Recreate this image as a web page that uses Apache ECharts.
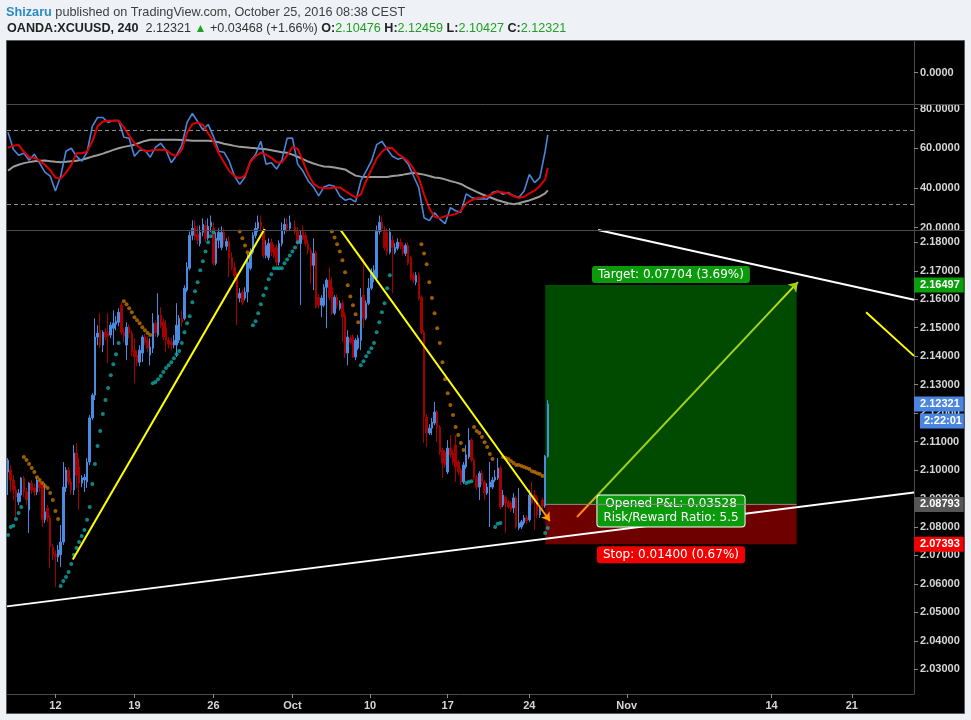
<!DOCTYPE html>
<html>
<head>
<meta charset="utf-8">
<title>OANDA:XCUUSD, 240</title>
<script src="https://cdn.jsdelivr.net/npm/echarts@6/dist/echarts.min.js"></script>
<style>
  html, body { margin: 0; padding: 0; background: #eef2f6; }
  #chart { width: 971px; height: 720px; }
</style>
</head>
<body>
<div id="chart"></div>
<script>
// time axis: bar index (4h bars) where each day label sits
var dayTicks = [18, 48, 78, 108, 137.5, 167, 198, 235, 290, 320.5];
var dayLabels = ['12', '19', '26', 'Oct', '10', '17', '24', 'Nov', '14', '21'];
var priceTicks = [2.03, 2.04, 2.05, 2.06, 2.07, 2.08, 2.09, 2.10, 2.11, 2.12, 2.13, 2.14, 2.15, 2.16, 2.17, 2.18];
var oscTicks = [20, 40, 60, 80];
var oscBands = [69, 32];

// 4h candles, one row per bar: open, close, low, high
var ohlc = [
  [2.0993,2.1035,2.0912,2.1042],[2.1000,2.0965,2.0923,2.1018],[2.0965,2.0930,2.0895,2.0982],[2.0930,2.0905,2.0835,2.0944],
  [2.0888,2.0919,2.0877,2.0933],[2.0912,2.0972,2.0888,2.0975],[2.0972,2.0923,2.0905,2.0979],[2.0923,2.0895,2.0877,2.0937],
  [2.0860,2.0954,2.0779,2.0958],[2.0954,2.0930,2.0916,2.0965],
  [2.0937,2.0923,2.0909,2.0951],[2.0923,2.0965,2.0912,2.0975],[2.0961,2.0937,2.0923,2.0972],[2.0947,2.0825,2.0800,2.0958],
  [2.0825,2.0853,2.0814,2.0954],[2.0867,2.0832,2.0818,2.0877],[2.0832,2.0730,2.0656,2.0842],[2.0730,2.0705,2.0684,2.0740],
  [2.0705,2.0695,2.0589,2.0719],[2.0695,2.0719,2.0677,2.0737],
  [2.0702,2.0747,2.0660,2.0807],[2.0747,2.0940,2.0737,2.1028],[2.0937,2.1000,2.0923,2.1011],[2.1000,2.0958,2.0947,2.1011],
  [2.0958,2.0930,2.0912,2.0972],[2.0930,2.1060,2.0912,2.1088],[2.1060,2.0982,2.0937,2.1095],[2.1011,2.0954,2.0860,2.1042],
  [2.0954,2.0972,2.0940,2.0982],[2.0965,2.0975,2.0923,2.0986],
  [2.0958,2.1028,2.0937,2.1042],[2.1028,2.1183,2.1018,2.1193],[2.1183,2.1263,2.1175,2.1270],[2.1263,2.1467,2.1246,2.1533],
  [2.1467,2.1481,2.1439,2.1509],[2.1491,2.1439,2.1428,2.1551],[2.1439,2.1484,2.1414,2.1491],[2.1484,2.1467,2.1456,2.1498],
  [2.1484,2.1470,2.1375,2.1551],[2.1474,2.1509,2.1463,2.1519],
  [2.1498,2.1516,2.1439,2.1561],[2.1512,2.1523,2.1491,2.1540],[2.1519,2.1554,2.1505,2.1568],[2.1579,2.1484,2.1474,2.1589],
  [2.1484,2.1470,2.1449,2.1498],[2.1439,2.1502,2.1386,2.1519],[2.1502,2.1481,2.1463,2.1512],[2.1481,2.1414,2.1400,2.1491],
  [2.1421,2.1397,2.1305,2.1463],[2.1404,2.1379,2.1365,2.1421],
  [2.1379,2.1421,2.1365,2.1439],[2.1411,2.1467,2.1379,2.1474],[2.1467,2.1449,2.1439,2.1477],[2.1456,2.1428,2.1414,2.1470],
  [2.1404,2.1432,2.1368,2.1463],[2.1428,2.1516,2.1411,2.1551],[2.1516,2.1481,2.1467,2.1526],[2.1474,2.1544,2.1467,2.1621],
  [2.1544,2.1509,2.1498,2.1572],[2.1519,2.1467,2.1456,2.1533],
  [2.1498,2.1456,2.1414,2.1526],[2.1456,2.1442,2.1428,2.1467],[2.1449,2.1439,2.1421,2.1463],[2.1439,2.1456,2.1428,2.1474],
  [2.1439,2.1509,2.1397,2.1586],[2.1456,2.1533,2.1446,2.1544],[2.1533,2.1519,2.1505,2.1561],[2.1533,2.1639,2.1526,2.1649],
  [2.1632,2.1712,2.1625,2.1730],[2.1709,2.1824,2.1702,2.1838],
  [2.1824,2.1849,2.1807,2.1877],[2.1856,2.1821,2.1807,2.1877],[2.1828,2.1807,2.1793,2.1859],[2.1796,2.1835,2.1786,2.1859],
  [2.1835,2.1863,2.1821,2.1884],[2.1859,2.1814,2.1800,2.1877],[2.1814,2.1856,2.1807,2.1884],[2.1856,2.1870,2.1835,2.1894],
  [2.1849,2.1726,2.1719,2.1870],[2.1726,2.1814,2.1719,2.1835],
  [2.1807,2.1835,2.1779,2.1849],[2.1782,2.1835,2.1772,2.1856],[2.1835,2.1807,2.1789,2.1849],[2.1786,2.1803,2.1772,2.1814],
  [2.1803,2.1744,2.1677,2.1821],[2.1747,2.1712,2.1702,2.1765],[2.1712,2.1684,2.1667,2.1730],[2.1684,2.1604,2.1509,2.1695],
  [2.1604,2.1621,2.1589,2.1639],[2.1625,2.1589,2.1579,2.1635],
  [2.1604,2.1625,2.1596,2.1642],[2.1625,2.1730,2.1589,2.1761],[2.1709,2.1765,2.1702,2.1779],[2.1765,2.1824,2.1758,2.1835],
  [2.1824,2.1849,2.1814,2.1870],[2.1849,2.1870,2.1835,2.1894],[2.1870,2.1856,2.1842,2.1891],[2.1838,2.1754,2.1744,2.1856],
  [2.1754,2.1789,2.1744,2.1807],[2.1747,2.1796,2.1737,2.1814],
  [2.1800,2.1765,2.1751,2.1814],[2.1779,2.1754,2.1744,2.1793],[2.1782,2.1730,2.1719,2.1793],[2.1730,2.1796,2.1719,2.1807],
  [2.1796,2.1842,2.1786,2.1870],[2.1842,2.1863,2.1828,2.1884],[2.1863,2.1849,2.1835,2.1884],[2.1849,2.1870,2.1842,2.1894],
  [2.1870,2.1856,2.1845,2.1891],[2.1856,2.1838,2.1828,2.1877],
  [2.1838,2.1796,2.1786,2.1852],[2.1796,2.1824,2.1579,2.1842],[2.1838,2.1814,2.1807,2.1859],[2.1824,2.1796,2.1786,2.1835],
  [2.1796,2.1772,2.1758,2.1807],[2.1772,2.1719,2.1656,2.1782],[2.1719,2.1761,2.1632,2.1814],[2.1765,2.1572,2.1568,2.1772],
  [2.1607,2.1579,2.1568,2.1618],[2.1579,2.1604,2.1537,2.1614],
  [2.1579,2.1642,2.1572,2.1653],[2.1642,2.1667,2.1498,2.1674],[2.1667,2.1607,2.1596,2.1712],[2.1642,2.1551,2.1544,2.1677],
  [2.1551,2.1607,2.1544,2.1614],[2.1607,2.1579,2.1568,2.1618],[2.1568,2.1586,2.1561,2.1596],[2.1586,2.1537,2.1449,2.1596],
  [2.1544,2.1411,2.1393,2.1554],[2.1411,2.1467,2.1368,2.1491],
  [2.1463,2.1449,2.1439,2.1474],[2.1467,2.1397,2.1393,2.1477],[2.1397,2.1456,2.1386,2.1463],[2.1428,2.1463,2.1421,2.1474],
  [2.1456,2.1607,2.1421,2.1639],[2.1614,2.1533,2.1498,2.1744],[2.1533,2.1586,2.1526,2.1596],[2.1586,2.1639,2.1579,2.1674],
  [2.1639,2.1695,2.1632,2.1709],[2.1674,2.1702,2.1660,2.1719],
  [2.1674,2.1838,2.1667,2.1859],[2.1838,2.1870,2.1828,2.1894],[2.1870,2.1849,2.1835,2.1891],[2.1838,2.1782,2.1772,2.1856],
  [2.1835,2.1765,2.1754,2.1849],[2.1765,2.1835,2.1758,2.1849],[2.1807,2.1782,2.1621,2.1824],[2.1765,2.1782,2.1758,2.1796],
  [2.1779,2.1800,2.1772,2.1814],[2.1800,2.1786,2.1775,2.1814],
  [2.1789,2.1761,2.1754,2.1800],[2.1761,2.1789,2.1751,2.1796],[2.1789,2.1726,2.1719,2.1800],[2.1747,2.1674,2.1667,2.1754],
  [2.1684,2.1667,2.1656,2.1695],[2.1660,2.1684,2.1649,2.1695],[2.1684,2.1604,2.1596,2.1695],[2.1607,2.1484,2.1477,2.1614],
  [2.1484,2.1186,2.1095,2.1491],[2.1186,2.1130,2.1081,2.1197],
  [2.1130,2.1147,2.1123,2.1161],[2.1147,2.1168,2.1123,2.1183],[2.1165,2.1204,2.1158,2.1239],[2.1204,2.1151,2.1098,2.1211],
  [2.1151,2.1063,2.1053,2.1158],[2.1070,2.1025,2.0972,2.1077],[2.1063,2.1018,2.1007,2.1070],[2.0993,2.1077,2.0986,2.1105],
  [2.1077,2.1053,2.1042,2.1123],[2.1060,2.1028,2.1018,2.1070],
  [2.1088,2.1011,2.0958,2.1123],[2.1028,2.0993,2.0982,2.1035],[2.1000,2.0958,2.0947,2.1007],[2.0958,2.1018,2.0951,2.1028],
  [2.1011,2.1053,2.1004,2.1088],[2.1046,2.1105,2.1039,2.1147],[2.1105,2.1035,2.1028,2.1112],[2.1035,2.0975,2.0965,2.1042],
  [2.0975,2.0940,2.0930,2.0982],[2.0940,2.0989,2.0895,2.0996],
  [2.0989,2.0958,2.0947,2.1000],[2.0958,2.0919,2.0895,2.0965],[2.0919,2.0940,2.0912,2.0954],[2.0940,2.0958,2.0800,2.1028],
  [2.0940,2.0965,2.0933,2.0975],[2.0965,2.0975,2.0958,2.1000],[2.0972,2.1007,2.0965,2.1042],[2.1007,2.0870,2.0863,2.1014],
  [2.0877,2.0912,2.0870,2.0930],[2.0905,2.0884,2.0779,2.0912],
  [2.0888,2.0870,2.0863,2.0895],[2.0884,2.0860,2.0853,2.0891],[2.0867,2.0902,2.0849,2.0919],[2.0902,2.0800,2.0793,2.0909],
  [2.0796,2.0814,2.0789,2.0937],[2.0800,2.0818,2.0793,2.0825],[2.0814,2.0832,2.0807,2.0842],[2.0832,2.0821,2.0811,2.0842],
  [2.0825,2.0912,2.0818,2.0930],[2.0905,2.0884,2.0877,2.0958],
  [2.0912,2.0895,2.0789,2.0930],[2.0902,2.0842,2.0832,2.0912],[2.0842,2.0867,2.0832,2.0877],[2.0895,2.0874,2.0853,2.0905],
  [2.0874,2.1048,2.0867,2.1053],[2.10476,2.12321,2.10427,2.12459]
];

// parabolic SAR dots [bar, price]
var sarUp = [
  [0,2.0772],[1,2.0800],[2,2.0804],[3,2.0828],[4,2.0849],[5,2.0870],
  [20,2.0593],[21,2.0610],[22,2.0624],[23,2.0642],[24,2.0670],[25,2.0702],[26,2.0726],[27,2.0747],[28,2.0768],[29,2.0789],
  [30,2.0825],[31,2.0870],[32,2.0951],[33,2.1021],[34,2.1084],[35,2.1137],[36,2.1197],[37,2.1246],[38,2.1288],[39,2.1333],
  [40,2.1372],[41,2.1407],[42,2.1446],
  [55,2.1305],[56,2.1309],[57,2.1319],[58,2.1330],[59,2.1344],[60,2.1358],[61,2.1368],[62,2.1379],[63,2.1393],[64,2.1407],
  [65,2.1418],[66,2.1446],[67,2.1484],[68,2.1516],[69,2.1540],[70,2.1589],[71,2.1628],[72,2.1660],[73,2.1702],[74,2.1733],
  [75,2.1768],[76,2.1800],[77,2.1821],[78,2.1835],
  [93,2.1509],[94,2.1523],[95,2.1551],[96,2.1582],[97,2.1614],[98,2.1639],[99,2.1670],[100,2.1688],[101,2.1709],[102,2.1709],
  [103,2.1709],[104,2.1709],[105,2.1726],[106,2.1740],[107,2.1754],[108,2.1768],[109,2.1782],[110,2.1800],
  [134,2.1368],[135,2.1382],[136,2.1400],[137,2.1414],[138,2.1428],[139,2.1446],[140,2.1484],[141,2.1519],[142,2.1554],
  [143,2.1586],[144,2.1639],[145,2.1684],
  [174,2.0954],[175,2.0958],[176,2.0961],
  [185,2.0800],[186,2.0811],[187,2.0814],
  [204,2.0779],[205,2.0796]
];
var sarDown = [
  [6,2.1046],[7,2.1035],[8,2.1021],[9,2.1007],[10,2.0993],[11,2.0975],[12,2.0965],[13,2.0954],[14,2.0944],[15,2.0937],
  [16,2.0919],[17,2.0895],[18,2.0856],[19,2.0828],
  [44,2.1593],[45,2.1582],[46,2.1568],[47,2.1554],[48,2.1537],[49,2.1526],[50,2.1516],[51,2.1502],[52,2.1491],[53,2.1481],[54,2.1474],
  [88,2.1838],[89,2.1814],[90,2.1789],[91,2.1765],
  [123,2.1838],[124,2.1817],[125,2.1793],[126,2.1768],[127,2.1737],[128,2.1695],[129,2.1649],[130,2.1610],[131,2.1579],
  [132,2.1547],[133,2.1519],
  [157,2.1793],[158,2.1761],[159,2.1723],[160,2.1660],[161,2.1604],[162,2.1551],[163,2.1498],[164,2.1446],[165,2.1379],
  [166,2.1319],[167,2.1270],[168,2.1228],[169,2.1193],[170,2.1151],[171,2.1123],[172,2.1095],[173,2.1070],
  [177,2.1151],[178,2.1137],[179,2.1130],[180,2.1116],[181,2.1098],[182,2.1081],[183,2.1056],[184,2.1039],
  [188,2.1046],[189,2.1042],[190,2.1039],[191,2.1032],[192,2.1025],[193,2.1018],[194,2.1018],[195,2.1014],[196,2.1011],
  [197,2.1007],[198,2.1004],[199,2.0996],[200,2.0993],[201,2.0989],[202,2.0986],[203,2.0979]
];

// oscillator, sampled every 2nd bar (0,2,...,204) plus the last bar 205
var oscFast = [
  68,59.5,56.5,57.5,54,57,52.5,48,46,38.5, 46,58.5,60,56,53.5,58,71,75.5,75.5,73,
  74,74,65.5,65,56,59,59,55.5,60.5,62.5, 59,52.7,56.5,61.5,73,77.5,73.5,69.3,72,66,
  58.5,58,53.5,46,41.8,45.5,53.5,56.8,63.5,52,  52.7,49.5,54,65,65.2,52,48.5,43.5,40.5,36,
  40.5,41.5,40.8,36,33.8,34.5,33,43.5,48.5,53.5, 61.8,63.5,59.5,56,54.5,55.2,52,46,40.2,25,
  23.5,27.5,24.3,22,30,28.5,27.7,37,35.2,34.5, 34.6,34.3,37.7,38.5,36.8,37.7,36,35.2,38.5,46.8,
  42.7,45.2,58.5,66.8
];
var oscSlow = [
  60.2,61.3,61.7,58.2,55.5,55.2,53.7,51.7,49,45.2, 44.7,47.7,51.5,57.5,57.5,58.3,63.5,71,73.5,73.8,
  73.8,73.8,70.5,66.5,62.5,60.3,58.5,58.7,59.3,59.3, 59.3,57,56,59.3,67.8,72.2,73,71.8,67.5,63.5,
  57.5,53,48.5,46,44.8,46.2,53,56,57.7,56.8, 55.2,53,52.8,56.5,60.5,59.8,53.5,46.8,42.2,40.3,
  39.8,39.8,40.2,40.3,38.5,36.8,35.2,36.8,43.5,49.3, 54.8,58.2,60.3,60,57.2,55.5,53.3,49.7,44.8,36.8,
  29.7,25.5,24.8,25.8,26.3,26.8,28.5,32.2,33.8,34.8, 35.2,35.8,37,38.2,37.7,37.2,35.8,35,35.5,37.3,
  38.7,41,44.3,50.2
];
var oscBase = [
  48.7,50.7,51.7,52.5,53,53.5,53.7,53.8,53.5,53.2, 53,53.2,53.5,53.7,54.2,55,55.8,56.5,57.3,58.2,
  59.2,60,60.7,61.2,61.8,62.8,63.7,64.3,64.3,64.3, 64.3,64.3,64.3,64.2,64,63.8,63.8,63.8,63.8,63.5,
  63,62.3,61.8,61.2,60.7,60.5,60.2,60,59.8,59.5, 59,58.5,58,57.7,56.8,55.7,54.5,53.3,52.3,51.5,
  50.8,50.7,50.3,49.8,49.3,47.7,46.2,45.7,45.5,45.5, 45.5,45.5,45.5,46,46.3,46.7,47.2,47.7,47.2,46.7,
  46,45.3,45,44.3,43.5,42.8,42,40.5,39.3,38, 36.8,35.8,34.8,33.8,33,32.3,31.8,32.3,33,33.7,
  34.7,35.7,37.3,38.8
];

// drawings on the price panel, [bar, price]
var lowerTrend = [[-0.4, 2.0521], [344.1, 2.0921]];
var upperTrend = [[224.1, 2.1843], [344.1, 2.1598]];
var riseTrend = [[24.6, 2.0686], [97.5, 2.1848]];
var fallTrend = [[126.4, 2.1842], [201.3, 2.0879]];
var fallArrow = [[201.3, 2.0879], [205.8, 2.0821]];
var rightTrend = [[325.9, 2.1554], [344.1, 2.1401]];
var targetArrow = [[216.1, 2.0835], [300.0, 2.1660]];

// long position tool
var positionBars = [204.06, 299.5];
var entryPrice = 2.08793;
var targetPrice = 2.16497;
var stopPrice = 2.07393;
var lastPrice = 2.12321;
var pnlPoint = [251.8, 2.0856];
var targetText = 'Target: 0.07704 (3.69%)';
var pnlText = 'Opened P&L: 0.03528\nRisk/Reward Ratio: 5.5';
var stopText = 'Stop: 0.01400 (0.67%)';
var countdownText = '2:22:01';

var UP = '#4a8be2', DOWN = '#a50000';
var AXIS_FONT = { color: '#d6d6d6', fontSize: 11, fontWeight: 'bold', fontFamily: 'Liberation Sans, Arial, sans-serif' };
var XMIN = -0.4, XMAX = 344.1;

var candleData = ohlc.map(function (r, i) { return [i, r[0], r[1], r[2], r[3]]; });
var oscBars = [];
for (var k = 0; k < 103; k++) oscBars.push(k * 2);
oscBars.push(205);
function pairs(vals) { return vals.map(function (v, j) { return [oscBars[j], v]; }); }

// a coloured price tag sitting on the right price axis
function tag(value, color, extra) {
  return {
    coord: [XMAX, value],
    label: Object.assign({}, AXIS_FONT, {
      show: true, position: 'right', distance: 0, formatter: value.toFixed(5),
      color: '#fff', backgroundColor: color, padding: [2, 4, 1, 6], lineHeight: 12
    }, extra || {})
  };
}

function hiddenX(idx) {
  return { type: 'value', gridIndex: idx, min: XMIN, max: XMAX, show: false, axisLine: { onZero: false } };
}
function sideY(idx, min, max, ticks, digits) {
  return {
    type: 'value', gridIndex: idx, position: 'right', min: min, max: max, scale: true,
    axisLine: { show: true, onZero: false, lineStyle: { color: '#4a4a4a' } },
    axisTick: { show: true, customValues: ticks, length: 4, lineStyle: { color: '#8a8a8a' } },
    axisLabel: Object.assign({ customValues: ticks, margin: 6, formatter: function (v) { return v.toFixed(digits); } }, AXIS_FONT),
    splitLine: { show: false }
  };
}
function trend(points, color, z) {
  return {
    type: 'line', xAxisIndex: 2, yAxisIndex: 2, data: points, showSymbol: false, silent: true,
    lineStyle: { color: color, width: 2 }, z: z || 3, animation: false, clip: true
  };
}

var chart = echarts.init(document.getElementById('chart'), null, { renderer: 'canvas' });
chart.setOption({
  animation: false,
  backgroundColor: '#eef2f6',
  textStyle: { fontFamily: 'Liberation Sans, Arial, sans-serif' },
  title: [{
    left: 6, top: 6, padding: 0,
    text: '{u|Shizaru} {t|published on TradingView.com, October 25, 2016 08:38 CEST}',
    textStyle: {
      fontSize: 12.7, fontWeight: 'normal', fontFamily: 'Liberation Sans, Arial, sans-serif',
      rich: {
        u: { color: '#2b8ac6', fontWeight: 'bold', fontSize: 12.7 },
        t: { color: '#404040', fontWeight: 'normal', fontSize: 12.7 }
      }
    }
  }, {
    left: 7, top: 22, padding: 0,
    text: '{b|OANDA:XCUUSD, 240}  {n|2.12321} {g|▲} {n|+0.03468 (+1.66%)} {b|O:}{v|2.10476} {b|H:}{v|2.12459} {b|L:}{v|2.10427} {b|C:}{v|2.12321}',
    textStyle: {
      fontSize: 12.6, fontWeight: 'normal', fontFamily: 'Liberation Sans, Arial, sans-serif',
      rich: {
        b: { color: '#222', fontWeight: 'bold', fontSize: 12.6 },
        n: { color: '#333', fontWeight: 'normal', fontSize: 12.6 },
        g: { color: '#1fa31f', fontWeight: 'normal', fontSize: 12 },
        v: { color: '#1f9e1f', fontWeight: 'normal', fontSize: 12.6 }
      }
    }
  }],
  graphic: [
    { type: 'rect', z: -10, silent: true, shape: { x: 6.5, y: 40.5, width: 958, height: 673 },
      style: { fill: '#000', stroke: '#5a5a5a', lineWidth: 1 } },
    { type: 'line', z: 50, silent: true, shape: { x1: 7, y1: 104.5, x2: 964, y2: 104.5 }, style: { stroke: '#4a4a4a', lineWidth: 1 } },
    { type: 'line', z: 50, silent: true, shape: { x1: 7, y1: 230.5, x2: 964, y2: 230.5 }, style: { stroke: '#4a4a4a', lineWidth: 1 } }
  ],
  grid: [
    { left: 7, right: 57, top: 41, height: 63, outerBoundsMode: 'none' },
    { left: 7, right: 57, top: 104, height: 126, outerBoundsMode: 'none' },
    { left: 7, right: 57, top: 230, height: 464, outerBoundsMode: 'none' }
  ],
  xAxis: [
    hiddenX(0), hiddenX(1),
    {
      type: 'value', gridIndex: 2, min: XMIN, max: XMAX,
      axisLine: { show: true, onZero: false, lineStyle: { color: '#4a4a4a' } },
      axisTick: { show: true, customValues: dayTicks, length: 4, lineStyle: { color: '#8a8a8a' } },
      axisLabel: Object.assign({
        customValues: dayTicks, margin: 6,
        formatter: function (v) {
          for (var j = 0; j < dayTicks.length; j++) if (Math.abs(dayTicks[j] - v) < 0.01) return dayLabels[j];
          return '';
        }
      }, AXIS_FONT),
      splitLine: { show: false }
    }
  ],
  yAxis: [
    sideY(0, -1, 1, [0], 4),
    sideY(1, 18.8, 82.3, oscTicks, 4),
    sideY(2, 2.02132, 2.18432, priceTicks, 5)
  ],
  series: [
    // empty upper pane keeps its axis
    { type: 'line', xAxisIndex: 0, yAxisIndex: 0, data: [], silent: true },
    // oscillator pane
    {
      type: 'line', xAxisIndex: 1, yAxisIndex: 1, data: pairs(oscBase), showSymbol: false, silent: true,
      lineStyle: { color: '#9c9c9c', width: 2 }, z: 2,
      markLine: {
        silent: true, symbol: 'none', label: { show: false },
        lineStyle: { color: '#8c8c8c', type: [4, 3], width: 1 },
        data: oscBands.map(function (b) { return { yAxis: b }; })
      }
    },
    { type: 'line', xAxisIndex: 1, yAxisIndex: 1, data: pairs(oscFast), showSymbol: false, silent: true,
      lineStyle: { color: '#4a86dc', width: 1.6 }, z: 3 },
    { type: 'line', xAxisIndex: 1, yAxisIndex: 1, data: pairs(oscSlow), showSymbol: false, silent: true,
      lineStyle: { color: '#dd0000', width: 2 }, z: 4 },
    // price pane
    trend(lowerTrend, '#ffffff', 3),
    trend(upperTrend, '#ffffff', 3),
    {
      type: 'candlestick', xAxisIndex: 2, yAxisIndex: 2, data: candleData, clip: true, silent: true,
      dimensions: ['bar', 'open', 'close', 'lowest', 'highest'],
      encode: { x: 'bar', y: ['open', 'close', 'lowest', 'highest'] },
      barWidth: 2, z: 4,
      itemStyle: { color: UP, color0: DOWN, borderColor: UP, borderColor0: DOWN, borderWidth: 1 }
    },
    { type: 'scatter', xAxisIndex: 2, yAxisIndex: 2, data: sarUp, symbolSize: 4, silent: true, clip: true,
      itemStyle: { color: '#10a8a8' }, z: 5 },
    { type: 'scatter', xAxisIndex: 2, yAxisIndex: 2, data: sarDown, symbolSize: 4, silent: true, clip: true,
      itemStyle: { color: '#c27400' }, z: 5 },
    trend(riseTrend, '#ffff00', 6),
    Object.assign(trend(fallTrend, '#ffff00', 6), {
      markLine: {
        silent: true, symbol: ['none', 'arrow'], symbolSize: 8, label: { show: false },
        lineStyle: { color: '#ff9a00', width: 2, type: 'solid' },
        data: [[{ coord: fallArrow[0] }, { coord: fallArrow[1] }]]
      }
    }),
    trend(rightTrend, '#ffff00', 6),
    // position tool: target / stop zones, entry line and labels
    {
      type: 'line', xAxisIndex: 2, yAxisIndex: 2, z: 7, silent: true, showSymbol: false,
      data: [[positionBars[0], entryPrice], [positionBars[1], entryPrice]],
      lineStyle: { color: '#8a8a8a', width: 1 },
      markArea: {
        silent: true,
        data: [
          [{ coord: [positionBars[0], targetPrice], itemStyle: { color: 'rgba(0,150,0,0.5)' },
             label: { show: true, position: 'top', distance: 2, formatter: targetText, color: '#fff',
                      backgroundColor: '#0b9a0b', padding: [3, 6, 2, 6], borderRadius: 3,
                      fontFamily: 'DejaVu Sans, sans-serif', fontSize: 12 } },
           { coord: [positionBars[1], entryPrice] }],
          [{ coord: [positionBars[0], entryPrice], itemStyle: { color: 'rgba(220,0,0,0.5)' },
             label: { show: true, position: 'bottom', distance: 2, formatter: stopText, color: '#fff',
                      backgroundColor: '#f20000', padding: [3, 6, 2, 6], borderRadius: 3,
                      fontFamily: 'DejaVu Sans, sans-serif', fontSize: 12 } },
           { coord: [positionBars[1], stopPrice] }]
        ]
      },
      markPoint: {
        silent: true, symbol: 'rect', symbolSize: 0,
        data: [{ coord: pnlPoint, label: {
          show: true, position: 'inside', formatter: pnlText, color: '#fff', align: 'center',
          backgroundColor: '#0b9a0b', borderColor: '#fff', borderWidth: 1, borderRadius: 3,
          padding: [2, 6, 1, 6], lineHeight: 14, fontFamily: 'DejaVu Sans, sans-serif', fontSize: 12
        } }]
      }
    },
    // price tags on the right axis
    {
      type: 'line', xAxisIndex: 2, yAxisIndex: 2, data: [], silent: true, z: 20,
      markPoint: {
        silent: true, symbol: 'rect', symbolSize: 0, animation: false,
        data: [
          tag(targetPrice, '#0a9f0a'),
          tag(lastPrice, '#4a86e0'),
          tag(lastPrice, '#4a86e0', { formatter: countdownText, offset: [6, 17], padding: [2, 2, 1, 4] }),
          tag(entryPrice, '#555555'),
          tag(stopPrice, '#f40000')
        ]
      }
    },
    {
      type: 'line', xAxisIndex: 2, yAxisIndex: 2, data: [], silent: true, z: 8,
      markLine: {
        silent: true, symbol: ['none', 'arrow'], symbolSize: 9, label: { show: false },
        lineStyle: {
          width: 2, type: 'solid',
          color: new echarts.graphic.LinearGradient(0, 1, 1, 0, [
            { offset: 0, color: '#ff7a00' }, { offset: 0.06, color: '#ff9a00' },
            { offset: 0.11, color: '#9acd1a' }, { offset: 0.85, color: '#a6d21e' }, { offset: 1, color: '#e4e40a' }
          ])
        },
        data: [[{ coord: targetArrow[0] }, { coord: targetArrow[1] }]]
      }
    }
  ]
});
</script>
</body>
</html>
